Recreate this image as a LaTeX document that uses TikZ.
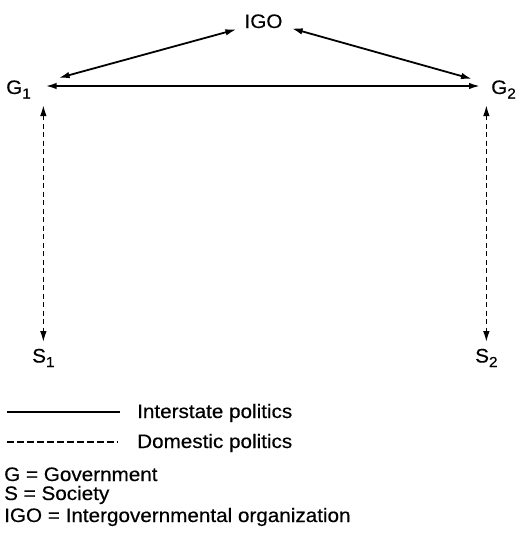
\documentclass[tikz,border=0pt]{standalone}
\usepackage{fontspec}
\setmainfont{Liberation Sans}[FakeStretch=1.06,FakeBold=0.4]
\usetikzlibrary{arrows.meta,calc}
\newcommand\subidx[1]{\raisebox{-4.5pt}{\fontsize{14.5}{14.5}\selectfont #1}}
\begin{document}
\begin{tikzpicture}[x=1pt,y=-1pt,
  lbl/.style={inner sep=0pt, font=\fontsize{19.5}{22}\selectfont},
  tip/.style={},
  biarr/.style={line width=1.8pt, {Latex[length=11pt,width=6.5pt]}-{Latex[length=11pt,width=6.5pt]}},
  dasharr/.style={line width=1.6pt, dash pattern=on 5pt off 3.5pt, {Latex[length=11pt,width=6.5pt]}-{Latex[length=11pt,width=6.5pt]}},
  legsolid/.style={line width=1.5pt},
  legdash/.style={line width=1.5pt, dash pattern=on 6.5pt off 3.5pt}]
\useasboundingbox (0,0) rectangle (516,538);
% main nodes
\node[lbl, anchor=base] (IGO) at (263.5,28) {IGO};
\node[lbl, anchor=base west] (G1) at (6,94) {G\subidx{1}};
\node[lbl, anchor=base west] (G2) at (491,94) {G\subidx{2}};
\node[lbl, anchor=base west] (S1) at (32,362.5) {S\subidx{1}};
\node[lbl, anchor=base west] (S2) at (475,362.5) {S\subidx{2}};
% interstate connectors
\draw[biarr] ([xshift=14.6pt,yshift=8pt]G1.base east) -- ([xshift=-11pt,yshift=8pt]G2.base west);
\draw[biarr] ([xshift=27.6pt,yshift=16pt]G1.base east) -- ([xshift=-8pt,yshift=-1pt]IGO.south west);
\draw[biarr] ([xshift=9pt,yshift=0pt]IGO.south east) -- ([xshift=-19pt,yshift=15pt]G2.base west);
% domestic connectors
\draw[dasharr] ($(S1.north |- G1.base)+(0,11)$) -- ($(S1.north)+(0,-6.5)$);
\draw[dasharr] ($(S2.north |- G2.base)+(0,11)$) -- ($(S2.north)+(0,-6.5)$);
% legend
\node[lbl, anchor=base west] (L1) at (137,418) {Interstate politics};
\node[lbl, anchor=base west] (L2) at (137,448) {Domestic politics};
\draw[legsolid] ($(L1.base west)+(-130,-6)$) -- ($(L1.base west)+(-17,-6)$);
\draw[legdash] ($(L2.base west)+(-130,-6)$) -- ($(L2.base west)+(-19,-6)$);
\node[lbl, anchor=base west] (K1) at (4,481) {G = Government};
\node[lbl, anchor=base west] (K2) at (4,500) {S = Society};
\node[lbl, anchor=base west] (K3) at (4,522) {IGO = Intergovernmental organization};
\end{tikzpicture}
\end{document}
